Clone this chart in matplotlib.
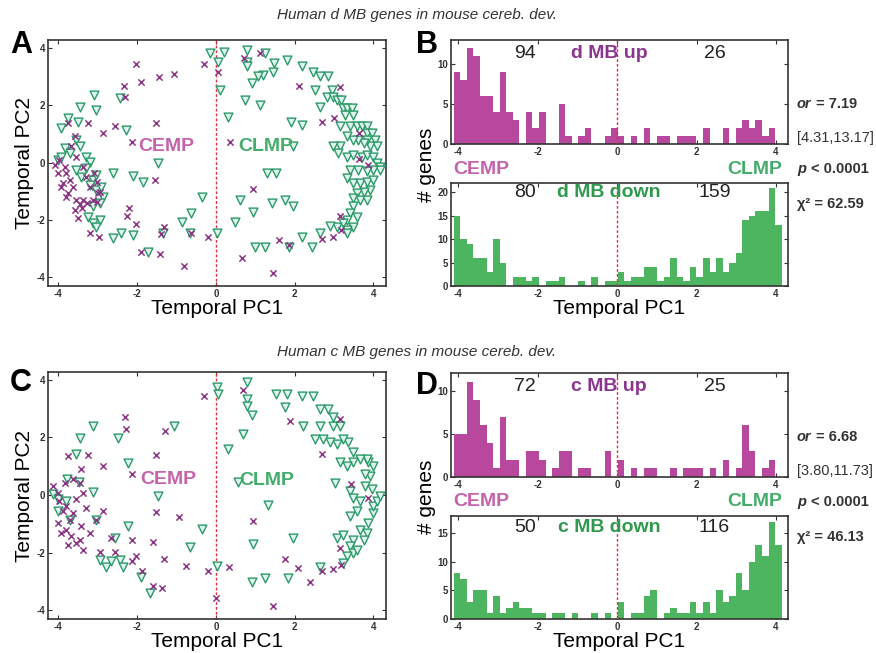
import numpy as np
import matplotlib
matplotlib.use("Agg")
import matplotlib.pyplot as plt

plt.rcParams['font.family'] = ['Liberation Sans', 'DejaVu Sans']
plt.rcParams['axes.unicode_minus'] = False

# ---------------- data ----------------
# histogram counts, 0.165-wide bins starting at PC1 = -4.11
BIN_START = -4.11
BIN_WIDTH = 0.165

d_up = [9, 8, 12, 11, 6, 6, 4, 9, 4, 3, 0, 4, 2, 4, 0, 0, 5, 1, 0, 1, 2, 0, 0, 1, 2,
        1, 0, 1, 0, 2, 0, 1, 1, 0, 1, 1, 1, 0, 2, 0, 0, 2, 0, 2, 3, 2, 3, 1, 2]
d_down = [15, 10, 9, 6, 6, 3, 10, 5, 0, 2, 2, 1, 2, 0, 1, 1, 2, 0, 0, 1, 0, 2, 0, 1, 1,
          3, 1, 2, 2, 4, 4, 1, 2, 6, 2, 1, 4, 2, 6, 3, 6, 3, 5, 7, 14, 15, 16, 16, 21, 13]
c_up = [5, 5, 11, 9, 6, 4, 1, 7, 2, 2, 0, 3, 3, 2, 0, 1, 3, 3, 0, 1, 1, 0, 0, 3, 0,
        2, 0, 1, 0, 1, 1, 0, 0, 1, 0, 1, 1, 1, 0, 1, 0, 2, 0, 1, 6, 3, 0, 1, 2]
c_down = [8, 7, 3, 5, 5, 1, 4, 1, 2, 3, 2, 2, 1, 1, 0, 1, 1, 0, 1, 0, 0, 1, 0, 1, 0,
          3, 0, 1, 1, 4, 5, 0, 1, 2, 1, 1, 3, 1, 3, 1, 5, 3, 4, 8, 5, 10, 13, 11, 17, 13]

# panel A scatter (Temporal PC1, Temporal PC2)
a_up_x = [-2.02, -1.45, -1.06, -0.31, -2.33, -2.30, -1.90, 0.72, 1.13, 0.06, 2.11, 3.15,
          -1.51, -2.57, -2.86, -3.25, -2.14, -3.75, -3.58, 0.36, 2.69, 3.00, 3.64, 3.64,
          3.87, -1.55, -3.02, -2.95, -3.02, -3.27, 0.95, 3.15, 3.19, 2.98, 2.69, 1.61,
          1.86, 0.67, 1.46, -2.21, -2.25, -2.03, -1.90, -1.41, -1.38, -1.32, -0.81, -0.19,
          -0.64, -3.20, -2.97, -3.39,
          -4.09, -3.97, -3.84, -3.80, -3.71, -3.63, -3.75, -3.54, -3.46, -3.37, -3.80, -3.92,
          -4.01, -3.54, -3.67, -3.37, -3.29, -3.20, -3.08, -2.99, -3.12, -3.58, -3.50, -3.88]
a_up_y = [3.43, 2.97, 3.09, 3.43, 2.67, 2.30, 2.79, 3.66, 3.81, 3.15, 2.67, 2.64,
          1.37, 1.26, 1.02, 1.37, 0.73, 1.37, 0.91, 0.70, 1.40, 1.55, 1.02, 0.13,
          -0.10, -0.60, -0.66, -1.01, -1.36, -1.42, -0.92, -1.86, -2.35, -2.60, -2.67, -2.70,
          -2.87, -3.34, -3.86, -1.59, -1.86, -2.14, -3.13, -3.19, -2.49, -2.23, -3.59, -2.60,
          -2.47, -2.47, -2.60, -1.59,
          -0.08, 0.09, -0.14, -0.37, -0.60, -0.84, -1.07, -1.30, -1.44, -1.30, -1.19, -0.84,
          -0.37, 0.21, 0.56, -0.14, -0.49, -0.84, -0.37, -1.07, -1.30, -1.65, -1.94, -0.72]
a_down_x = [-0.15, 0.20, 0.06, 0.10, 0.78, 0.80, 0.78, 1.25, 1.47, 1.46, 1.80, 1.20, 1.08,
            0.91, 0.75, 0.32, 2.19, 2.47, 2.64, 2.86, 2.94, 2.52, 2.64, 2.81, 2.98, 3.07,
            3.19, 3.24, 3.32, 3.45, 3.49, 3.28, 3.15, 3.41, 3.58, 3.70, 3.83, 3.83, 3.96,
            4.04, 4.08, 3.92, 3.83, 3.75, 3.62, 3.49, 3.32, 3.15, 2.98, 3.11, 3.32, 3.49,
            3.70, 3.83, 4.00, 4.08, 4.17, 4.17, 4.00, 3.83, 3.62, 3.41, 3.32, 3.49, 3.66,
            3.83, 4.00, 3.92, 3.75, 3.58, 3.49, 3.66, 3.83, 3.49, 3.41, 3.58, 3.32, 3.24,
            3.49, 3.32, 3.32, 3.07, 2.90, 2.64, 2.43, 2.18, 1.97, 1.75, 1.42, 0.95, 0.61,
            0.48, 0.99, 1.25, 1.85, 1.54, 1.29, 1.97, 2.18, 1.92, 1.12,
            -1.47, -1.85, -2.10, -2.61, -2.27, -3.03, -3.46, -3.08, -2.44, -3.75, -3.50,
            -3.92, -3.54, -3.84, -3.46, -4.01, -3.92, -3.71, -3.29, -3.20, -3.29, -3.12,
            -3.03, -3.54, -3.42, -3.20, -3.03, -2.91, -2.86, -2.95, -3.12, -3.25, -3.12,
            -2.95, -3.03, -2.61, -2.40, -2.10, -1.72, -1.34, -0.87, -0.66, -0.36, 0.02, -0.62]
a_down_y = [3.81, 3.84, 3.52, 2.53, 3.93, 3.52, 3.35, 3.81, 3.47, 3.17, 3.58, 3.06, 3.00,
            2.77, 2.19, 1.58, 3.35, 3.17, 3.00, 3.00, 2.53, 2.53, 1.95, 2.30, 2.30, 2.19,
            2.19, 1.90, 1.90, 1.90, 1.66, 1.66, 1.26, 1.26, 1.26, 1.26, 1.26, 1.02, 1.02,
            0.79, 0.56, 0.56, 0.79, 0.67, 0.79, 0.79, 0.91, 0.56, 0.56, 0.33, 0.21, 0.27,
            0.21, 0.27, 0.21, -0.02, -0.14, -0.26, -0.26, -0.31, -0.26, -0.26, -0.55, -0.72, -0.72,
            -0.66, -0.60, -0.95, -1.01, -1.07, -1.24, -1.30, -1.30, -1.53, -1.77, -1.88, -2.00, -2.12,
            -2.23, -2.35, -2.47, -2.23, -2.21, -2.47, -2.93, -2.58, -1.53, -1.30, -1.42, -1.71, -1.30,
            -2.06, -2.93, -2.93, -2.93, -0.37, -0.35, 0.56, 1.31, 1.43, 2.01,
            -0.02, -0.66, -0.47, -0.37, 1.14, 1.84, 1.95, 2.36, 2.24, 1.55, 1.40,
            1.20, 0.79, 0.50, 0.56, 0.09, 0.21, 0.33, 0.21, 0.03, -0.20, -0.60,
            -0.43, -0.26, -0.49, -0.78, -0.95, -0.84, -1.19, -1.42, -1.53, -1.88, -2.12,
            -2.00, -2.23, -2.64, -2.47, -2.52, -3.10, -2.47, -2.06, -2.47, -1.19, -2.44, -1.77]

# panel C scatter
c_up_x = [-0.31, -2.31, -2.27, -1.30, -1.51, -3.25, -2.86, -3.75, -3.42, -2.14, 0.69, 1.88,
          3.15, 2.69, 3.43, 3.87, -1.51, -0.94, 0.95, -1.59, -2.14, -2.65, -2.57, -2.95,
          -2.02, -2.14, -1.87, -1.31, -1.36, -1.59, -0.75, -0.19, 0.00, 0.34, 1.75, 2.08,
          2.39, 2.69, 2.98, 3.14, 3.19, 1.46, -3.03, -2.86,
          -4.14, -4.01, -3.97, -3.88, -4.01, -3.80, -3.67, -3.54, -3.46, -3.71, -3.63, -3.80,
          -3.54, -3.37, -3.46, -3.63, -3.84, -3.29, -3.42, -3.20, -3.92, -3.75, -3.37]
c_up_y = [3.42, 2.70, 2.29, 2.21, 1.38, 1.38, 1.01, 1.36, 0.90, 0.72, 3.65, 2.58,
          2.64, 1.42, 0.40, -0.09, -0.59, -0.77, -0.91, -1.64, -1.57, -1.49, -1.99, -1.99,
          -2.13, -2.30, -2.65, -2.21, -3.23, -3.17, -2.45, -2.62, -3.56, -2.48, -2.21, -2.53,
          -3.02, -2.65, -2.57, -1.84, -2.42, -3.84, -0.85, -0.56,
          0.31, 0.08, -0.21, -0.56, -0.97, -1.20, -1.43, -1.66, -1.55, -0.85, -0.62, -0.38,
          -0.15, 0.08, 0.43, 0.55, 0.43, -0.44, -1.08, -1.31, -1.31, -1.72, -1.90]
c_down_x = [0.78, 0.78, 0.78, 0.02, 0.06, 0.93, 0.69, 0.31, -1.07, -2.48, -3.12, -3.46,
            -3.54, -2.23, -3.77, -3.48, -3.12, -4.14, -4.01, -3.80, -4.01, -3.71, -3.03,
            -2.23, -2.57, -2.44, -2.78, -2.95, -2.65, -2.36, -1.89, -1.68, -1.47, -0.34,
            -0.66, 0.03, 0.91, 1.25, 1.84, 1.33, 1.97, 0.95, 2.64, 3.07, 3.24, 3.49, 3.41,
            3.49, 3.58, 3.32, 3.24, 3.66, 3.83, 3.75, 3.87, 4.00, 4.00, 4.08, 4.17, 3.96,
            3.79, 3.92, 3.79, 4.00, 3.87, 3.83, 3.66, 3.49, 3.32, 3.15, 3.03, 3.41, 3.49,
            3.66, 3.58, 3.41, 3.49, 3.36, 3.24, 3.07, 2.90, 2.73, 2.52, 2.64, 2.98, 3.15,
            2.98, 2.86, 2.64, 2.47, 2.18, 1.80, 1.54, 1.75, 2.22, 0.57]
c_down_y = [3.92, 3.34, 3.10, 3.74, 3.51, 2.78, 2.12, 1.59, 2.38, 1.97, 2.38, 1.97,
            1.42, 1.10, 0.55, 0.45, 0.10, 0.02, -0.15, -0.21, -0.56, -0.85, -0.85,
            -1.08, -1.49, -2.24, -2.48, -2.24, -2.30, -2.48, -2.83, -3.41, -0.03, -1.17,
            -1.81, -2.45, -3.00, -2.88, -2.88, -0.33, -1.49, -1.69, -2.48, -1.49, -1.37, -1.55, -1.78,
            -2.01, -1.90, -2.13, -2.36, -1.20, -1.31, -1.55, -0.97, -0.62, -0.38, -0.21, -0.03, 0.20,
            0.31, 0.66, 0.72, 1.01, 1.13, 1.24, 1.24, 1.13, 1.01, 1.13, 0.43, 0.14, -0.09,
            -0.21, -0.56, -0.73, 1.48, 1.83, 1.94, 1.77, 1.83, 1.94, 1.94, 2.41, 2.41, 2.41,
            2.70, 2.99, 2.99, 3.45, 3.45, 3.51, 3.51, 3.05, 2.41, 0.45]

# colours
UP_BAR = '#b8489e'
DOWN_BAR = '#4db560'
UP_TEXT = '#8c3590'
DOWN_TEXT = '#2f9a4e'
CEMP_COL = '#c463ac'
CLMP_COL = '#45ad6b'
CROSS_COL = '#8a3583'
TRI_EDGE = '#2b9a68'
TRI_FACE = '#dff3ef'
SPINE = '#333333'
STAT_COL = '#333333'


def style_axes(ax, xticks, yticks):
    ax.set_xticks(xticks)
    ax.set_yticks(yticks)
    ax.tick_params(direction='in', length=3, width=0.8, labelsize=7, pad=2,
                   top=True, right=True, colors=SPINE)
    for lab in ax.get_xticklabels() + ax.get_yticklabels():
        lab.set_fontweight('bold')
    for sp in ax.spines.values():
        sp.set_color(SPINE)
        sp.set_linewidth(1.2)


def scatter_panel(ax, up_x, up_y, dn_x, dn_y, cemp_xy, clmp_xy):
    ax.scatter(dn_x, dn_y, marker='v', s=40, facecolor=TRI_FACE, edgecolor=TRI_EDGE,
               linewidths=1.0, zorder=3)
    ax.scatter(up_x, up_y, marker='x', s=20, color=CROSS_COL, linewidths=1.1, zorder=4)
    ax.axvline(0, color='#e0303a', linestyle=(0, (2, 1.5)), linewidth=1.0, zorder=2)
    ax.set_xlim(-4.26, 4.32)
    ax.set_ylim(-4.3, 4.27)
    style_axes(ax, [-4, -2, 0, 2, 4], [-4, -2, 0, 2, 4])
    ax.set_xlabel('Temporal PC1', fontsize=15, labelpad=0)
    ax.set_ylabel('Temporal PC2', fontsize=15, labelpad=2)
    ax.text(cemp_xy[0], cemp_xy[1], 'CEMP', color=CEMP_COL, fontsize=14,
            fontweight='bold', ha='center', va='center', zorder=5)
    ax.text(clmp_xy[0], clmp_xy[1], 'CLMP', color=CLMP_COL, fontsize=14,
            fontweight='bold', ha='center', va='center', zorder=5)


def hist_panel(ax, counts, color, ymax, yticks, left_n, right_n, label, label_col, ny):
    edges = BIN_START + BIN_WIDTH * np.arange(len(counts) + 1)
    ax.stairs(counts, edges, fill=True, color=color, zorder=2)
    ax.axvline(0, color='#e0303a', linestyle=(0, (2, 1.5)), linewidth=1.0, zorder=3)
    ax.set_xlim(-4.18, 4.3)
    ax.set_ylim(0, ymax)
    style_axes(ax, [-4, -2, 0, 2, 4], yticks)
    ax.text(-2.31, ny, str(left_n), fontsize=14, ha='center', va='center', color='#222222')
    ax.text(2.45, ny, str(right_n), fontsize=14, ha='center', va='center', color='#222222')
    ax.text(-0.2, ny, label, fontsize=14, fontweight='bold', ha='center', va='center',
            color=label_col, zorder=4)


fig = plt.figure(figsize=(8.76, 6.53), dpi=100)
W, H = 876.0, 653.0


def add_ax(left, top, right, bottom):
    return fig.add_axes([left / W, 1 - bottom / H, (right - left) / W, (bottom - top) / H])


ax_a = add_ax(48, 40, 386, 286)
ax_b1 = add_ax(451, 40, 788, 144)
ax_b2 = add_ax(451, 183, 788, 286)
ax_c = add_ax(48, 372, 386, 619)
ax_d1 = add_ax(451, 373, 788, 477)
ax_d2 = add_ax(451, 516, 788, 619)

scatter_panel(ax_a, a_up_x, a_up_y, a_down_x, a_down_y, (-1.25, 0.55), (1.27, 0.55))
scatter_panel(ax_c, c_up_x, c_up_y, c_down_x, c_down_y, (-1.21, 0.55), (1.29, 0.51))

hist_panel(ax_b1, d_up, UP_BAR, 13.05, [0, 5, 10], 94, 26, 'd MB up', UP_TEXT, 11.4)
hist_panel(ax_b2, d_down, DOWN_BAR, 22, [0, 5, 10, 15, 20], 80, 159, 'd MB down', DOWN_TEXT, 19.9)
hist_panel(ax_d1, c_up, UP_BAR, 12.1, [0, 5, 10], 72, 25, 'c MB up', UP_TEXT, 10.5)
hist_panel(ax_d2, c_down, DOWN_BAR, 18, [0, 5, 10, 15], 50, 116, 'c MB down', DOWN_TEXT, 16.0)
ax_b2.set_xlabel('Temporal PC1', fontsize=15, labelpad=0)
ax_d2.set_xlabel('Temporal PC1', fontsize=15, labelpad=0)

# figure-level labels
fig.text(417 / W, 1 - 15 / H, 'Human d MB genes in mouse cereb. dev.', fontsize=11,
         style='italic', ha='center', va='center', color='#333333')
fig.text(417 / W, 1 - 352 / H, 'Human c MB genes in mouse cereb. dev.', fontsize=11,
         style='italic', ha='center', va='center', color='#333333')
for letter, x, y in [('A', 10, 45), ('B', 416, 45), ('C', 10, 383), ('D', 416, 386)]:
    fig.text(x / W, 1 - y / H, letter, fontsize=22, fontweight='bold', ha='left', va='center')

for top in (0, 332):
    fig.text(426 / W, 1 - (165 + top) / H, '# genes', fontsize=15, rotation=90,
             ha='center', va='center')
    fig.text(453 / W, 1 - (170 + top) / H, 'CEMP', fontsize=14, fontweight='bold',
             color=CEMP_COL, ha='left', va='center')
    fig.text(782 / W, 1 - (170 + top) / H, 'CLMP', fontsize=14, fontweight='bold',
             color=CLMP_COL, ha='right', va='center')

stats = [
    (104, 7.19, '[4.31,13.17]', 62.59, 0),
    (437, 6.68, '[3.80,11.73]', 46.13, 333),
]
for y_or, odds, ci, chi2, off in stats:
    fig.text(797 / W, 1 - y_or / H, 'or', fontsize=10.5, fontweight='bold', style='italic',
             ha='left', va='center', color=STAT_COL)
    fig.text(816 / W, 1 - y_or / H, '= %.2f' % odds, fontsize=10.5, fontweight='bold',
             ha='left', va='center', color=STAT_COL)
    fig.text(797 / W, 1 - (y_or + 34) / H, ci, fontsize=10.5, ha='left', va='center',
             color=STAT_COL)
    fig.text(797 / W, 1 - (169 + off) / H, 'p', fontsize=10.5, fontweight='bold',
             style='italic', ha='left', va='center', color=STAT_COL)
    fig.text(811 / W, 1 - (169 + off) / H, '< 0.0001', fontsize=10.5, fontweight='bold',
             ha='left', va='center', color=STAT_COL)
    fig.text(797 / W, 1 - (204 + off) / H, '\u03c7\u00b2 = %.2f' % chi2, fontsize=10.5,
             fontweight='bold', ha='left', va='center', color=STAT_COL)

fig.savefig('out.png', dpi=100)
